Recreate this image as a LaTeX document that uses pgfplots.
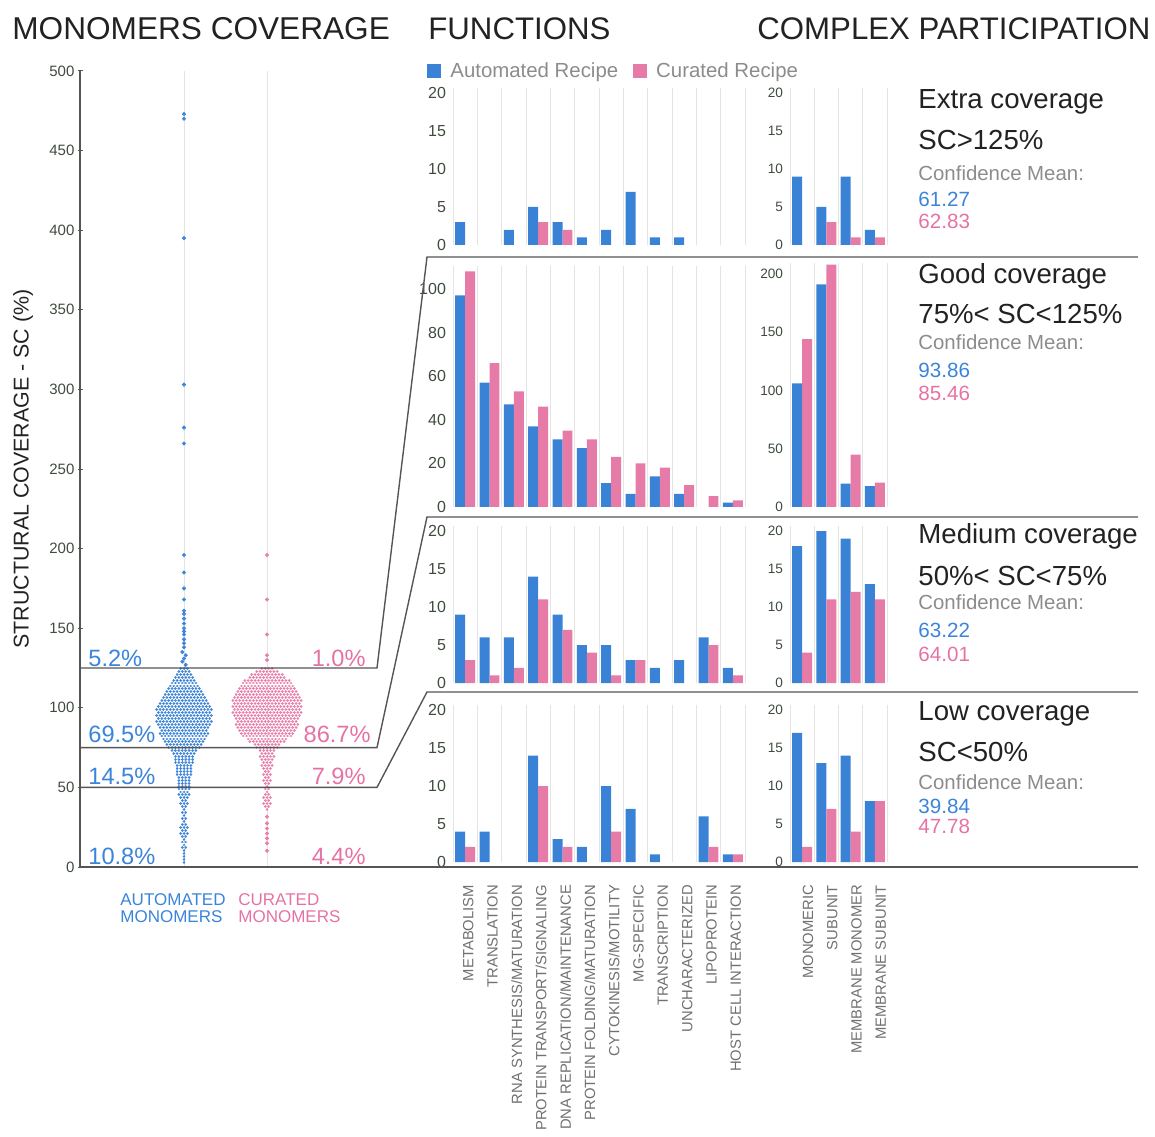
\documentclass[border=0pt]{standalone}
\usepackage{pgfplots}
\pgfplotsset{compat=1.18}
\usepackage{fontspec}
\setmainfont{Liberation Sans}
\newcommand\fs[1]{\fontsize{#1}{#1}\selectfont}
\definecolor{cblue}{HTML}{3A82D6}
\definecolor{cpink}{HTML}{E77BA8}
\definecolor{sblue}{HTML}{3F86DA}
\definecolor{spink}{HTML}{E97FAB}
\definecolor{tblue}{HTML}{3A84D9}
\definecolor{tpink}{HTML}{E672A4}
\definecolor{lgray}{HTML}{8C8C8C}
\definecolor{gridc}{HTML}{E4E4E4}
\definecolor{linec}{HTML}{555555}
\definecolor{tickc}{HTML}{3F4B3F}
\definecolor{labc}{HTML}{707070}
\definecolor{txtc}{HTML}{222222}
\pgfplotsset{
  panel/.style={scale only axis, anchor=south west, clip=false,
    axis line style={draw=none}, ymin=0,
    major tick length=0pt, minor tick length=0pt,
    xminorgrids, minor grid style={draw=gridc, line width=0.5pt},
    tick pos=left, xticklabels={},
    yticklabel style={font=\fs{8}, text=tickc},
    /pgf/number format/assume math mode=true},
  fpanel/.style={panel, width=146pt, xmin=-0.5, xmax=11.5,
    xtick={0,...,11}, minor xtick={-0.5,0.5,...,11.5}},
  cpanel/.style={panel, width=48.5pt, xmin=-0.5, xmax=3.5,
    xtick={0,...,3}, minor xtick={-0.5,0.5,...,3.5},
    yticklabel style={font=\fs{6.8}}},
  small/.style={height=78.5pt, ymax=20.66, ytick={0,5,10,15,20}},
  bblue/.style={ybar, bar width=0.41, bar shift=-0.205, fill=cblue, draw=none},
  bpink/.style={ybar, bar width=0.41, bar shift=0.205, fill=cpink, draw=none},
  catlab/.style={xticklabel shift=8pt, xticklabel style={xshift=#1, rotate=90, anchor=east, font=\fs{7.4}, text=labc}},
}
\begin{document}
\begin{tikzpicture}
% ---------------- swarm ----------------
\begin{axis}[at={(40pt,134.5pt)}, anchor=south west, scale only axis,
  width=149pt, height=398pt, xmin=80, xmax=378, ymin=0, ymax=500,
  axis x line=none, axis y line*=left, xtick=\empty,
  ytick={0,50,...,500},
  y axis line style={linec, line width=0.6pt},
  ytick style={linec, line width=0.5pt}, major tick length=2.5pt, tick align=center,
  yticklabel style={font=\fs{7.5}, text=tickc, xshift=2pt},
  /pgf/number format/assume math mode=true,
  clip=false, unbounded coords=jump]
\draw[gridc, line width=0.5pt] (axis cs:184,0) -- (axis cs:184,500);
\draw[gridc, line width=0.5pt] (axis cs:267,0) -- (axis cs:267,500);
\addplot[sblue, line width=1.45pt, line cap=round, dash pattern=on 0.01pt off 1.7pt] coordinates {
(180.6,124.8)(187.7,124.8)(nan,nan)
(178.9,122.9)(189.4,122.9)(nan,nan)
(177.2,121.1)(191.1,121.1)(nan,nan)
(175.5,119.3)(192.9,119.3)(nan,nan)
(173.7,117.4)(194.6,117.4)(nan,nan)
(172.0,115.6)(196.3,115.6)(nan,nan)
(170.3,113.7)(198.0,113.7)(nan,nan)
(168.6,111.9)(199.7,111.9)(nan,nan)
(166.9,110.0)(201.4,110.0)(nan,nan)
(165.2,108.2)(203.1,108.2)(nan,nan)
(163.5,106.3)(204.8,106.3)(nan,nan)
(161.8,104.5)(206.5,104.5)(nan,nan)
(160.1,102.6)(208.2,102.6)(nan,nan)
(158.4,100.8)(209.9,100.8)(nan,nan)
(156.6,98.9)(211.7,98.9)(nan,nan)
(158.4,97.1)(209.9,97.1)(nan,nan)
(156.6,95.2)(211.7,95.2)(nan,nan)
(158.4,93.4)(209.9,93.4)(nan,nan)
(156.6,91.5)(211.7,91.5)(nan,nan)
(158.4,89.7)(209.9,89.7)(nan,nan)
(160.1,87.8)(208.2,87.8)(nan,nan)
(161.8,86.0)(206.5,86.0)(nan,nan)
(160.1,84.1)(208.2,84.1)(nan,nan)
(161.8,82.3)(206.5,82.3)(nan,nan)
(163.5,80.4)(204.8,80.4)(nan,nan)
(165.2,78.6)(203.1,78.6)(nan,nan)
(166.9,76.7)(201.4,76.7)(nan,nan)
(168.6,74.9)(199.7,74.9)(nan,nan)
(172.0,73.0)(196.3,73.0)(nan,nan)
(173.7,71.2)(194.6,71.2)(nan,nan)
(175.5,69.3)(192.9,69.3)(nan,nan)
(175.5,67.5)(192.9,67.5)(nan,nan)
(175.5,65.6)(192.9,65.6)(nan,nan)
(177.2,63.8)(191.1,63.8)(nan,nan)
(177.2,61.9)(191.1,61.9)(nan,nan)
(177.2,60.1)(191.1,60.1)(nan,nan)
(177.2,58.2)(191.1,58.2)(nan,nan)
(178.9,56.4)(189.4,56.4)(nan,nan)
(178.9,54.5)(189.4,54.5)(nan,nan)
(178.9,52.7)(189.4,52.7)(nan,nan)
(178.9,50.8)(189.4,50.8)(nan,nan)
(178.9,49.0)(189.4,49.0)(nan,nan)
(180.6,47.1)(187.7,47.1)(nan,nan)
(178.9,45.3)(189.4,45.3)(nan,nan)
(180.6,43.4)(187.7,43.4)(nan,nan)
(182.3,41.6)(186.0,41.6)(nan,nan)
(180.6,39.7)(187.7,39.7)(nan,nan)
(182.3,37.9)(186.0,37.9)(nan,nan)
(184.0,36.0)(184.3,36.0)(nan,nan)
(182.3,34.2)(186.0,34.2)(nan,nan)
(184.0,32.3)(184.3,32.3)(nan,nan)
(182.3,30.5)(186.0,30.5)(nan,nan)
(184.0,28.6)(184.3,28.6)(nan,nan)
(182.3,26.8)(186.0,26.8)(nan,nan)
(180.6,24.9)(187.7,24.9)(nan,nan)
(182.3,23.1)(186.0,23.1)(nan,nan)
(180.6,21.2)(187.7,21.2)(nan,nan)
(182.3,19.4)(186.0,19.4)(nan,nan)
(184.0,17.5)(184.3,17.5)(nan,nan)
(182.3,15.7)(186.0,15.7)(nan,nan)
(184.0,13.8)(184.3,13.8)(nan,nan)
(182.3,12.0)(186.0,12.0)(nan,nan)
(184.0,10.1)(184.3,10.1)(nan,nan)
(184.0,8.3)(184.3,8.3)(nan,nan)
(184.0,6.4)(184.3,6.4)(nan,nan)
(184.0,4.6)(184.3,4.6)(nan,nan)
(184.0,2.7)(184.3,2.7)
};
\addplot[only marks, mark=*, mark size=0.8pt, sblue] coordinates {
(184,473)(184,470)(184,395)(184,303)(184,276)(184,266)(184,196)(184,185)(184,175)
(184,168)(184,161)(184,159)(184,156)(184,153)(184,150)(184,148)(184,146)(184,143)
(184,140.5)(184,138)(182.3,135)(185.7,133)(184,131)(182.3,129)(185.7,127)};
\addplot[spink, line width=1.45pt, line cap=round, dash pattern=on 0.01pt off 1.7pt] coordinates {
(261.9,124.8)(272.4,124.8)(nan,nan)
(256.7,122.9)(277.6,122.9)(nan,nan)
(251.6,121.1)(282.7,121.1)(nan,nan)
(249.9,119.3)(284.4,119.3)(nan,nan)
(244.8,117.4)(289.5,117.4)(nan,nan)
(243.1,115.6)(291.2,115.6)(nan,nan)
(241.4,113.7)(292.9,113.7)(nan,nan)
(239.6,111.9)(294.7,111.9)(nan,nan)
(237.9,110.0)(296.4,110.0)(nan,nan)
(236.2,108.2)(298.1,108.2)(nan,nan)
(234.5,106.3)(299.8,106.3)(nan,nan)
(232.8,104.5)(301.5,104.5)(nan,nan)
(234.5,102.6)(299.8,102.6)(nan,nan)
(232.8,100.8)(301.5,100.8)(nan,nan)
(234.5,98.9)(299.8,98.9)(nan,nan)
(232.8,97.1)(301.5,97.1)(nan,nan)
(234.5,95.2)(299.8,95.2)(nan,nan)
(236.2,93.4)(298.1,93.4)(nan,nan)
(237.9,91.5)(296.4,91.5)(nan,nan)
(236.2,89.7)(298.1,89.7)(nan,nan)
(237.9,87.8)(296.4,87.8)(nan,nan)
(239.6,86.0)(294.7,86.0)(nan,nan)
(241.4,84.1)(292.9,84.1)(nan,nan)
(243.1,82.3)(291.2,82.3)(nan,nan)
(248.2,80.4)(286.1,80.4)(nan,nan)
(249.9,78.6)(284.4,78.6)(nan,nan)
(255.0,76.7)(279.3,76.7)(nan,nan)
(256.7,74.9)(277.6,74.9)(nan,nan)
(260.2,73.0)(274.1,73.0)(nan,nan)
(261.9,71.2)(272.4,71.2)(nan,nan)
(260.2,69.3)(274.1,69.3)(nan,nan)
(261.9,67.5)(272.4,67.5)(nan,nan)
(263.6,65.6)(270.7,65.6)(nan,nan)
(261.9,63.8)(272.4,63.8)(nan,nan)
(263.6,61.9)(270.7,61.9)(nan,nan)
(265.3,60.1)(269.0,60.1)(nan,nan)
(263.6,58.2)(270.7,58.2)(nan,nan)
(265.3,56.4)(269.0,56.4)(nan,nan)
(263.6,54.5)(270.7,54.5)(nan,nan)
(265.3,52.7)(269.0,52.7)(nan,nan)
(267.0,50.8)(267.3,50.8)(nan,nan)
(265.3,49.0)(269.0,49.0)(nan,nan)
(267.0,47.1)(267.3,47.1)(nan,nan)
(265.3,45.3)(269.0,45.3)(nan,nan)
(263.6,43.4)(270.7,43.4)(nan,nan)
(265.3,41.6)(269.0,41.6)(nan,nan)
(263.6,39.7)(270.7,39.7)(nan,nan)
(265.3,37.9)(269.0,37.9)(nan,nan)
(267.0,36.0)(267.3,36.0)
};
\addplot[only marks, mark=*, mark size=0.8pt, spink] coordinates {
(267,196)(267,168)(267,146)(267,133)(267,130)
(267,31.6)(267,27.4)(267,24.2)(267,21.1)(267,18.0)(267,14.9)(267,10.2)};
\coordinate (a125) at (axis cs:80,125);
\coordinate (b125) at (axis cs:377,125);
\coordinate (a75) at (axis cs:80,75);
\coordinate (b75) at (axis cs:377,75);
\coordinate (a50) at (axis cs:80,50);
\coordinate (b50) at (axis cs:377,50);
\coordinate (a0) at (axis cs:80,0);
\end{axis}
% ---------------- Extra coverage ----------------
\begin{axis}[fpanel, small, at={(226.5pt,445.5pt)},
  legend style={at={(-0.089,1.105)}, anchor=west, draw=none, fill=none, inner sep=0pt,
    font=\fs{10.2}, text=lgray, legend columns=2,
    /tikz/every odd column/.append style={column sep=5pt}}]
\addplot[bblue, legend image code/.code={\fill[cblue] (0pt,-3pt) rectangle (7pt,4pt);}]
  coordinates {(0,3)(2,2)(3,5)(4,3)(5,1)(6,2)(7,7)(8,1)(9,1)};
\addlegendentry{\hspace*{-2.5pt}Automated Recipe\hspace*{5.5pt}}
\addplot[bpink, legend image code/.code={\fill[cpink] (0pt,-3pt) rectangle (7pt,4pt);}]
  coordinates {(3,3)(4,2)};
\addlegendentry{\hspace*{-2.5pt}Curated Recipe}
\end{axis}
\begin{axis}[cpanel, small, at={(395pt,445.5pt)}]
\addplot[bblue] coordinates {(0,9)(1,5)(2,9)(3,2)};
\addplot[bpink] coordinates {(1,3)(2,1)(3,1)};
\end{axis}
% ---------------- Good coverage ----------------
\begin{axis}[fpanel, at={(226.5pt,314.5pt)}, height=120.5pt, ymax=110.5, ytick={0,20,...,100}]
\addplot[bblue] coordinates {(0,97)(1,57)(2,47)(3,37)(4,31)(5,27)(6,11)(7,6)(8,14)(9,6)(11,2)};
\addplot[bpink] coordinates {(0,108)(1,66)(2,53)(3,46)(4,35)(5,31)(6,23)(7,20)(8,18)(9,10)(10,5)(11,3)};
\end{axis}
\begin{axis}[cpanel, at={(395pt,314.5pt)}, height=121.75pt, ymax=209, ytick={0,50,...,200}]
\addplot[bblue] coordinates {(0,106)(1,191)(2,20)(3,18)};
\addplot[bpink] coordinates {(0,144)(1,208)(2,45)(3,21)};
\end{axis}
% ---------------- Medium coverage ----------------
\begin{axis}[fpanel, small, at={(226.5pt,226.5pt)}]
\addplot[bblue] coordinates {(0,9)(1,6)(2,6)(3,14)(4,9)(5,5)(6,5)(7,3)(8,2)(9,3)(10,6)(11,2)};
\addplot[bpink] coordinates {(0,3)(1,1)(2,2)(3,11)(4,7)(5,4)(6,1)(7,3)(10,5)(11,1)};
\end{axis}
\begin{axis}[cpanel, small, at={(395pt,226.5pt)}]
\addplot[bblue] coordinates {(0,18)(1,20)(2,19)(3,13)};
\addplot[bpink] coordinates {(0,4)(1,11)(2,12)(3,11)};
\end{axis}
% ---------------- Low coverage ----------------
\begin{axis}[fpanel, small, at={(226.5pt,137pt)}, catlab=1.5pt,
  xticklabels={METABOLISM,TRANSLATION,RNA SYNTHESIS/MATURATION,PROTEIN TRANSPORT/SIGNALING,DNA REPLICATION/MAINTENANCE,PROTEIN FOLDING/MATURATION,CYTOKINESIS/MOTILITY,MG-SPECIFIC,TRANSCRIPTION,UNCHARACTERIZED,LIPOPROTEIN,HOST CELL INTERACTION}]
\addplot[bblue] coordinates {(0,4)(1,4)(3,14)(4,3)(5,2)(6,10)(7,7)(8,1)(10,6)(11,1)};
\addplot[bpink] coordinates {(0,2)(3,10)(4,2)(6,4)(10,2)(11,1)};
\end{axis}
\begin{axis}[cpanel, small, at={(395pt,137pt)}, catlab=3pt,
  xticklabels={MONOMERIC,SUBUNIT,MEMBRANE MONOMER,MEMBRANE SUBUNIT}]
\addplot[bblue] coordinates {(0,17)(1,13)(2,14)(3,8)};
\addplot[bpink] coordinates {(0,2)(1,7)(2,4)(3,8)};
\end{axis}
% ---------------- frame lines ----------------
\draw[linec, line width=0.7pt] (a125) -- (b125) -- (213.5pt,439.5pt) -- (569pt,439.5pt);
\draw[linec, line width=0.7pt] (a75) -- (b75) -- (213.5pt,309.5pt) -- (569pt,309.5pt);
\draw[linec, line width=0.7pt] (a50) -- (b50) -- (213.5pt,222pt) -- (569pt,222pt);
\draw[linec, line width=0.7pt] (a0) -- (569pt,134.5pt);
% ---------------- texts ----------------
\begin{scope}[every node/.style={inner sep=0pt}]
\node[anchor=base west, font=\fs{15.8}, text=txtc] at (6pt,548pt) {MONOMERS COVERAGE};
\node[anchor=base west, font=\fs{15.6}, text=txtc] at (214pt,548pt) {FUNCTIONS};
\node[anchor=base west, font=\fs{15.6}, text=txtc] at (378.5pt,548pt) {COMPLEX PARTICIPATION};
\node[rotate=90, font=\fs{10.7}, text=txtc] at (11.5pt,333.5pt) {STRUCTURAL COVERAGE - SC (\%)};
\node[anchor=base west, font=\fs{8.5}, text=tblue] at (60pt,115.5pt) {AUTOMATED};
\node[anchor=base west, font=\fs{8.5}, text=tblue] at (60pt,107pt) {MONOMERS};
\node[anchor=base west, font=\fs{8.5}, text=tpink] at (119pt,115.5pt) {CURATED};
\node[anchor=base west, font=\fs{8.5}, text=tpink] at (119pt,107pt) {MONOMERS};
\node[anchor=base west, font=\fs{11.8}, text=tblue] at (44pt,235pt) {5.2\%};
\node[anchor=base west, font=\fs{11.8}, text=tblue] at (44pt,197pt) {69.5\%};
\node[anchor=base west, font=\fs{11.8}, text=tblue] at (44pt,176pt) {14.5\%};
\node[anchor=base west, font=\fs{11.8}, text=tblue] at (44pt,136pt) {10.8\%};
\node[anchor=base east, font=\fs{11.8}, text=tpink] at (183pt,235pt) {1.0\%};
\node[anchor=base east, font=\fs{11.8}, text=tpink] at (185.5pt,197pt) {86.7\%};
\node[anchor=base east, font=\fs{11.8}, text=tpink] at (183pt,176pt) {7.9\%};
\node[anchor=base east, font=\fs{11.8}, text=tpink] at (183pt,136pt) {4.4\%};
% panel descriptions
\node[anchor=base west, font=\fs{13.8}, text=txtc] at (459pt,513.5pt) {Extra coverage};
\node[anchor=base west, font=\fs{13.8}, text=txtc] at (459pt,493pt) {SC>125\%};
\node[anchor=base west, font=\fs{10.2}, text=lgray] at (459pt,477.5pt) {Confidence Mean:};
\node[anchor=base west, font=\fs{10.3}, text=tblue] at (459pt,464.5pt) {61.27};
\node[anchor=base west, font=\fs{10.3}, text=tpink] at (459pt,453.5pt) {62.83};
\node[anchor=base west, font=\fs{13.8}, text=txtc] at (459pt,426pt) {Good coverage};
\node[anchor=base west, font=\fs{13.8}, text=txtc] at (459pt,406pt) {75\%< SC<125\%};
\node[anchor=base west, font=\fs{10.2}, text=lgray] at (459pt,393pt) {Confidence Mean:};
\node[anchor=base west, font=\fs{10.3}, text=tblue] at (459pt,379pt) {93.86};
\node[anchor=base west, font=\fs{10.3}, text=tpink] at (459pt,367.5pt) {85.46};
\node[anchor=base west, font=\fs{13.8}, text=txtc] at (459pt,296pt) {Medium coverage};
\node[anchor=base west, font=\fs{13.8}, text=txtc] at (459pt,275pt) {50\%< SC<75\%};
\node[anchor=base west, font=\fs{10.2}, text=lgray] at (459pt,263pt) {Confidence Mean:};
\node[anchor=base west, font=\fs{10.3}, text=tblue] at (459pt,249.5pt) {63.22};
\node[anchor=base west, font=\fs{10.3}, text=tpink] at (459pt,237.5pt) {64.01};
\node[anchor=base west, font=\fs{13.8}, text=txtc] at (459pt,208pt) {Low coverage};
\node[anchor=base west, font=\fs{13.8}, text=txtc] at (459pt,187.5pt) {SC<50\%};
\node[anchor=base west, font=\fs{10.2}, text=lgray] at (459pt,173.5pt) {Confidence Mean:};
\node[anchor=base west, font=\fs{10.3}, text=tblue] at (459pt,161.5pt) {39.84};
\node[anchor=base west, font=\fs{10.3}, text=tpink] at (459pt,151.5pt) {47.78};
\end{scope}
\pgfresetboundingbox
\path[use as bounding box] (0pt,0pt) rectangle (577.5pt,568pt);
\end{tikzpicture}
\end{document}
